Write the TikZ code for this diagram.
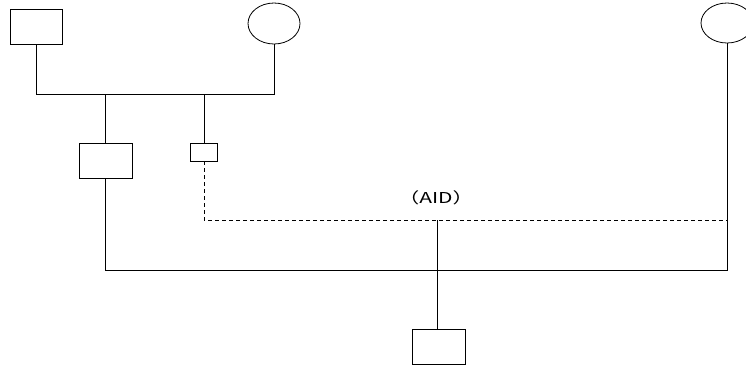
\documentclass[tikz,border=0pt]{standalone}
\usepackage{fontspec}
\usetikzlibrary{shapes.geometric}
\newfontfamily\cjk{Noto Sans CJK SC}
\begin{document}
\begin{tikzpicture}[x=1pt,y=-1pt,
  ln/.style={draw=black,line width=0.8pt},
  boxs/.style={ln,fill=white,inner sep=0pt},
  dsh/.style={ln,dash pattern=on 4pt off 3pt},
  lbl/.style={inner sep=0pt,font=\cjk\fontsize{15}{18}\selectfont}]
\useasboundingbox (0,0) rectangle (746,367);
\node[boxs,minimum width=52pt,minimum height=35pt] (b1) at (36,26.5) {};
\node[boxs,ellipse,minimum width=52pt,minimum height=41pt] (c1) at (274,23.5) {};
\node[boxs,ellipse,minimum width=52pt,minimum height=40pt] (c2) at (727,23) {};
\node[boxs,minimum width=53pt,minimum height=35pt] (b2) at (105.5,160.5) {};
\node[boxs,minimum width=27pt,minimum height=18pt] (b3) at (204,152) {};
\node[boxs,minimum width=53pt,minimum height=35pt] (b4) at (438.5,346.5) {};
\node[lbl] (lab) at (436,197.5) {\scalebox{1.4}[1]{（AID）}};
\coordinate (h1l) at (36,94);
\coordinate (h1r) at (274,94);
\coordinate (h1a) at (105.5,94);
\coordinate (h1b) at (204,94);
\coordinate (d1) at (204,220);
\coordinate (d2) at (727,220);
\coordinate (dm) at (437,220);
\coordinate (s1) at (105.5,270);
\coordinate (s2) at (727,270);
\draw[ln] (b1.south) -- (h1l) -- (h1r) -- (c1.south);
\draw[ln] (h1a) -- (b2.north);
\draw[ln] (h1b) -- (b3.north);
\draw[dsh] (b3.south) -- (d1) -- (d2);
\draw[ln] (b2.south) -- (s1) -- (s2) -- (c2.south);
\draw[ln] (dm) -- (dm |- b4.north);
\end{tikzpicture}
\end{document}
